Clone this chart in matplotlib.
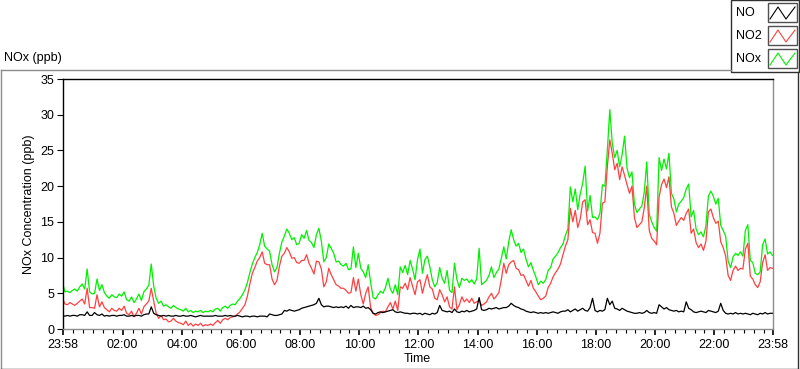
import numpy as np
import matplotlib
matplotlib.use('Agg')
import matplotlib.pyplot as plt
from matplotlib.lines import Line2D
from matplotlib.patches import Rectangle

plt.rcParams['font.family'] = ['Liberation Sans', 'DejaVu Sans']
plt.rcParams['font.size'] = 9

# minutes after 23:58, one sample every 5 min
minutes = np.arange(0, 1441, 5)

nox = [
    6.5, 5.2, 5.3, 5.1, 5.4, 5.6, 5.3, 5.9, 6.3, 5.6, 8.4, 5.2,
    4.9, 5.0, 7.0, 5.4, 6.2, 5.1, 4.6, 4.3, 4.8, 4.5, 4.4, 4.9,
    4.6, 5.2, 4.1, 3.9, 4.5, 3.7, 4.2, 4.9, 4.0, 5.2, 5.6, 6.1,
    9.1, 6.0, 4.3, 3.6, 3.9, 3.2, 3.4, 3.1, 2.9, 3.3, 3.0, 2.8,
    2.7, 2.5, 2.9, 2.4, 2.6, 2.3, 2.5, 2.4, 2.6, 2.3, 2.5, 2.4,
    2.6, 2.4, 2.8, 2.9, 2.5, 3.0, 3.2, 2.9, 3.3, 3.5, 3.4, 3.9,
    4.3, 4.8, 5.5, 6.5, 7.9, 9.1, 10.0, 10.7, 11.8, 13.4, 11.6, 11.2,
    10.9, 9.0, 8.0, 8.6, 10.6, 12.2, 13.0, 14.0, 13.4, 12.5, 12.8, 11.8,
    12.0, 13.2, 12.7, 13.8, 12.4, 12.1, 11.4, 13.2, 14.1, 12.3, 9.4, 10.0,
    11.9, 11.3, 10.6, 9.4, 9.5, 9.0, 8.8, 9.2, 8.3, 8.4, 11.5, 8.6,
    10.6, 8.5, 8.0, 7.2, 9.0, 6.5, 4.4, 4.2, 4.8, 5.3, 5.0, 5.8,
    7.1, 5.6, 5.0, 6.2, 4.8, 8.7, 7.9, 8.9, 7.6, 9.6, 8.4, 6.9,
    9.7, 11.2, 7.8, 9.7, 10.2, 8.7, 6.9, 5.9, 6.5, 8.6, 7.1, 6.4,
    8.2, 5.4, 5.1, 9.2, 6.9, 5.8, 7.1, 6.8, 7.0, 6.5, 6.9, 6.3,
    7.0, 11.3, 6.2, 6.5, 6.8, 7.5, 8.7, 7.2, 7.9, 8.4, 9.9, 11.5,
    9.8, 12.2, 13.9, 12.5, 11.6, 12.0, 10.7, 11.2, 9.8, 8.7, 9.3, 8.2,
    7.3, 6.2, 6.7, 6.4, 6.9, 8.2, 8.6, 9.8, 10.2, 10.7, 11.4, 11.9,
    13.1, 14.0, 19.9, 17.8, 19.6, 16.7, 18.9, 20.4, 22.8, 16.5, 18.7, 15.6,
    15.7, 15.3, 16.2, 20.2, 20.0, 25.0, 30.7, 26.0, 24.0, 25.0, 22.7, 24.4,
    27.0, 22.5, 21.2, 22.0, 17.5, 16.3, 16.8, 17.2, 19.2, 23.4, 16.1, 15.0,
    14.2, 13.7, 24.0, 22.2, 23.8, 22.4, 24.6, 19.0, 18.2, 16.4, 17.5, 17.9,
    18.4, 19.6, 20.3, 15.7, 16.6, 14.0, 13.2, 13.6, 12.9, 14.5, 18.6, 19.3,
    18.6, 17.5, 18.3, 14.5, 13.8, 13.0, 9.5, 8.6, 10.1, 10.6, 10.3, 10.8,
    10.2, 13.8, 14.6, 9.6, 9.3, 7.8, 7.6, 8.0, 11.8, 12.6, 10.5, 10.8, 10.3,
]

no2 = [
    4.3, 3.5, 3.4, 3.7, 3.5, 3.3, 3.6, 3.9, 4.2, 3.5, 5.7, 3.0,
    3.0, 2.9, 4.8, 3.1, 3.8, 3.0, 2.7, 2.4, 2.9, 2.6, 2.5, 2.9,
    2.6, 3.2, 2.2, 2.0, 2.5, 1.7, 2.2, 2.9, 2.1, 3.1, 3.5, 3.9,
    5.7, 3.9, 2.2, 1.5, 1.9, 1.3, 1.4, 1.0, 1.1, 1.5, 1.1, 0.9,
    0.8, 0.6, 1.1, 0.5, 0.8, 0.4, 0.7, 0.5, 0.8, 0.4, 0.6, 0.5,
    0.7, 0.5, 0.9, 1.2, 0.8, 1.3, 1.5, 1.3, 1.6, 1.7, 1.8, 2.1,
    2.4, 2.9, 3.4, 4.6, 6.3, 7.8, 8.6, 9.5, 10.0, 10.8, 9.2, 9.0,
    9.0, 7.0, 6.2, 6.8, 8.8, 10.2, 10.6, 11.4, 10.8, 9.9, 10.0, 9.3,
    9.2, 9.6, 9.6, 10.4, 9.2, 8.5, 7.7, 9.5, 9.4, 8.4, 5.9, 6.6,
    8.5, 7.6, 6.9, 6.2, 6.0, 5.7, 5.7, 5.4, 5.0, 5.1, 7.2, 5.3,
    7.0, 4.8, 3.5, 5.0, 5.9, 3.0, 2.2, 1.9, 2.0, 2.3, 2.5, 2.4,
    3.1, 3.7, 2.8, 3.9, 2.6, 5.9, 5.7, 6.4, 5.5, 7.2, 6.0, 4.8,
    6.6, 6.9, 5.0, 6.4, 7.6, 5.9, 5.6, 4.3, 4.1, 5.5, 4.8, 3.8,
    4.5, 3.1, 2.8, 5.9, 2.7, 3.4, 4.5, 3.8, 4.2, 3.7, 4.3, 3.6,
    3.8, 4.0, 3.3, 3.5, 3.8, 4.5, 5.0, 4.2, 4.6, 5.1, 6.9, 9.2,
    7.8, 9.0, 9.4, 9.6, 8.5, 8.3, 7.5, 7.6, 6.8, 6.0, 6.8, 5.7,
    5.2, 4.6, 4.1, 4.3, 4.6, 5.8, 6.4, 7.3, 7.9, 8.4, 9.1, 10.4,
    11.6, 12.5, 16.9, 15.0, 16.6, 14.2, 15.4, 17.8, 18.1, 14.6, 15.3, 13.5,
    13.4, 12.0, 13.4, 17.6, 17.8, 22.7, 26.5, 24.6, 22.3, 23.2, 20.9, 22.7,
    21.5, 20.2, 19.0, 20.0, 15.6, 14.2, 14.6, 15.0, 17.0, 20.0, 13.8, 12.7,
    12.3, 11.8, 18.5, 20.2, 21.0, 19.8, 21.3, 17.1, 16.2, 14.5, 15.1, 15.6,
    15.2, 16.2, 16.8, 13.4, 14.0, 12.1, 11.4, 11.9, 11.0, 12.3, 16.4, 16.8,
    15.6, 14.8, 15.1, 12.2, 11.4, 10.2, 7.5, 6.8, 8.2, 8.8, 8.2, 8.5,
    8.4, 11.2, 12.0, 7.4, 7.0, 6.2, 5.8, 6.6, 9.3, 10.4, 8.2, 8.6, 8.5,
]

no = [
    1.9, 1.8, 1.9, 1.8, 1.9, 1.9, 1.8, 2.0, 2.0, 1.9, 2.4, 1.9,
    1.9, 2.3, 2.0, 1.9, 2.1, 1.8, 1.9, 1.8, 1.9, 1.9, 1.8, 1.9,
    1.9, 2.0, 1.8, 1.8, 1.9, 1.8, 1.9, 1.9, 1.8, 2.0, 2.1, 2.1,
    3.1, 2.2, 2.0, 1.9, 1.8, 1.9, 1.8, 1.9, 1.8, 1.8, 1.9, 1.8,
    1.8, 1.9, 1.8, 1.8, 1.9, 1.8, 1.7, 1.8, 1.9, 1.8, 1.8, 1.8,
    1.8, 1.8, 1.9, 1.8, 1.8, 1.8, 1.9, 1.8, 1.9, 1.8, 1.8, 1.9,
    1.8, 1.7, 1.8, 1.8, 1.7, 1.8, 1.8, 1.7, 1.8, 1.8, 1.8, 1.7,
    2.1, 2.0, 1.9, 1.9, 2.0, 2.1, 2.6, 2.5, 2.7, 2.6, 2.5, 2.6,
    2.7, 2.9, 3.0, 3.1, 3.2, 3.3, 3.4, 3.6, 4.3, 3.4, 3.1, 3.2,
    3.2, 3.1, 3.0, 3.1, 3.0, 3.1, 3.0, 3.2, 2.9, 3.3, 3.0, 3.1,
    3.1, 3.0, 3.2, 2.9, 3.0, 2.7, 2.2, 2.1, 2.3, 2.4, 2.3, 2.4,
    2.5, 2.6, 2.7, 2.4, 2.3, 2.4, 2.3, 2.2, 2.2, 2.1, 2.2, 2.2,
    2.1, 2.2, 2.0, 2.2, 2.1, 2.0, 2.2, 2.1, 2.3, 3.3, 2.6, 2.5,
    2.4, 2.5, 2.3, 2.8, 2.4, 2.3, 2.5, 2.4, 2.6, 2.4, 2.5, 2.6,
    2.8, 4.4, 2.7, 2.6, 2.7, 2.9, 2.8, 2.9, 3.0, 2.8, 2.9, 3.0,
    3.0, 3.2, 3.6, 3.3, 3.1, 3.0, 2.8, 2.7, 2.5, 2.4, 2.3, 2.4,
    2.3, 2.2, 2.3, 2.2, 2.3, 2.2, 2.3, 2.4, 2.3, 2.2, 2.4, 2.5,
    2.5, 2.7, 2.4, 2.6, 2.8, 2.5, 2.7, 2.9, 2.6, 2.5, 3.0, 4.3,
    2.6, 2.4, 2.6, 2.5, 2.7, 4.3, 3.4, 3.9, 2.9, 2.8, 2.6, 2.9,
    2.7, 2.5, 2.4, 2.3, 2.2, 2.2, 2.3, 2.2, 2.3, 2.6, 2.3, 2.2,
    2.3, 2.2, 3.4, 3.1, 2.8, 3.0, 2.7, 2.6, 2.5, 2.6, 2.4, 2.5,
    2.4, 3.8, 2.9, 2.7, 2.4, 2.3, 2.4, 2.5, 2.4, 2.3, 2.6, 2.5,
    2.4, 2.3, 2.5, 3.6, 2.6, 2.2, 2.1, 2.2, 2.1, 2.3, 2.1, 2.2,
    2.1, 2.2, 2.1, 2.0, 2.2, 2.1, 2.0, 2.2, 2.1, 2.3, 2.1, 2.2, 2.2,
]

major_ticks = [0, 122, 242, 362, 482, 602, 722, 842, 962, 1082, 1202, 1322, 1440]
major_labels = ['23:58', '02:00', '04:00', '06:00', '08:00', '10:00', '12:00',
                '14:00', '16:00', '18:00', '20:00', '22:00', '23:58']
series = [('NOx', nox, '#00f000'), ('NO2', no2, '#ff4040'), ('NO', no, 'black')]

W, H = 800, 369

def fx(x):
    return x / W

def fy(y):
    return 1 - y / H

fig = plt.figure(figsize=(W / 100, H / 100), dpi=100, facecolor='white')

# outer frame of the graph
fig.add_artist(Line2D([fx(0.5), fx(731)], [fy(69.5), fy(69.5)], color='#8c8c8c', lw=1))
fig.add_artist(Line2D([fx(0.5), fx(0.5)], [fy(69.5), fy(368.5)], color='#8c8c8c', lw=1))
fig.add_artist(Line2D([fx(0.5), fx(797.5)], [fy(368.5), fy(368.5)], color='#303030', lw=1))
fig.add_artist(Line2D([fx(797.5), fx(797.5)], [fy(72), fy(368.5)], color='#303030', lw=1))
fig.text(fx(4), fy(58), 'NOx (ppb)', ha='left', va='center')

ax = fig.add_axes([fx(62.5), fy(329), fx(710), 250 / H])
for name, vals, col in series:
    ax.plot(minutes, vals, color=col, lw=0.9)

ax.set_xlim(0, 1440)
ax.set_ylim(0, 35)
ax.set_yticks(range(0, 36, 5))
ax.set_xticks(major_ticks)
ax.set_xticklabels(major_labels)
minor = [2 + 20 * k for k in range(1, 72) if (2 + 20 * k) not in major_ticks]
ax.set_xticks(minor, minor=True)
ax.tick_params(axis='y', direction='out', length=4, width=0.8, pad=2)
ax.tick_params(axis='x', which='major', direction='out', length=4, width=1.2, pad=3)
ax.tick_params(axis='x', which='minor', direction='out', length=3, width=0.8)
ax.spines['top'].set_color('black')
ax.spines['left'].set_color('black')
ax.spines['right'].set_color('#8c8c8c')
ax.spines['bottom'].set_color('#8c8c8c')
for s in ax.spines.values():
    s.set_linewidth(1)
ax.set_xlabel('Time', labelpad=2)
ax.set_ylabel('NOx Concentration (ppb)', labelpad=4)

# legend panel
fig.add_artist(Rectangle((fx(731), fy(72)), fx(67.5), 72 / H, transform=fig.transFigure,
                         facecolor='white', edgecolor='#303030', lw=1))
zig = [0, 8, 16, 25]
for i, (name, vals, col) in enumerate([('NO', no, 'black'), ('NO2', no2, '#ff4040'), ('NOx', nox, '#00f000')]):
    top = 3 + i * 23
    fig.text(fx(736), fy(top + 10), name, ha='left', va='center')
    fig.add_artist(Rectangle((fx(768), fy(top + 19)), fx(29), 19 / H, transform=fig.transFigure,
                             facecolor='white', edgecolor='#505050', lw=1))
    xs = [fx(770 + z) for z in zig]
    ys = [fy(top + 16), fy(top + 4), fy(top + 16), fy(top + 4)]
    fig.add_artist(Line2D(xs, ys, color=col, lw=0.8))

fig.savefig('out.png', dpi=100, facecolor='white')
